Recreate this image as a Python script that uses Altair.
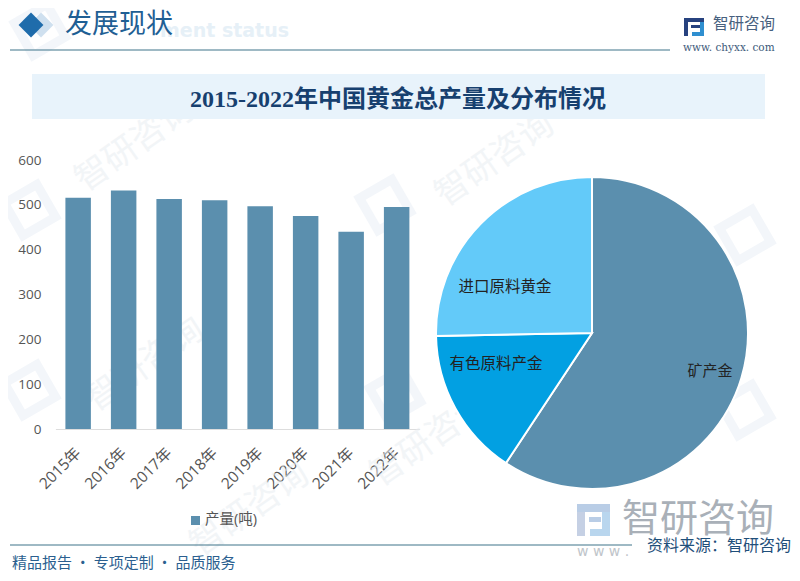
import altair as alt
import pandas as pd

years = ["2015年", "2016年", "2017年", "2018年", "2019年", "2020年", "2021年", "2022年"]
output = [516, 532, 513, 510, 497, 475, 440, 495]
pie_names = ["矿产金", "有色原料产金", "进口原料黄金"]
pie_shares = [59.3, 15.4, 25.3]
pie_colors = ["#5b8fae", "#02a0e2", "#63caf9"]
BAR = "#5b8fae"
SANS = "Noto Sans CJK SC"
AXF = "Open Sans, Noto Sans CJK SC"
OX, OY = 8, 8  # page margin

def px(v): return v - OX
def py(v): return v - OY

def label(text, x, y, size, color, weight="normal", font=SANS, align="left", angle=0, opacity=1.0):
    return alt.Chart(pd.DataFrame({"t": [text]})).mark_text(
        font=font, fontSize=size, color=color, fontWeight=weight, align=align,
        baseline="middle", angle=angle, opacity=opacity
    ).encode(text="t:N", x=alt.value(px(x)), y=alt.value(py(y)))

def box(x, y, x2, y2, color, opacity=1.0):
    return alt.Chart(pd.DataFrame({"a": [0]})).mark_rect(color=color, opacity=opacity).encode(
        x=alt.value(px(x)), x2=alt.value(px(x2)), y=alt.value(py(y)), y2=alt.value(py(y2)))

def hline(x, x2, y, color, w=1.2):
    return alt.Chart(pd.DataFrame({"a": [0]})).mark_rule(color=color, strokeWidth=w).encode(
        x=alt.value(px(x)), x2=alt.value(px(x2)), y=alt.value(py(y)))

def diamond(x, y, size, color, opacity=1.0):
    return alt.Chart(pd.DataFrame({"a": [0]})).mark_point(shape="diamond", filled=True, size=size, color=color, opacity=opacity).encode(
        x=alt.value(px(x)), y=alt.value(py(y)))

def ghost(x, y):
    return alt.Chart(pd.DataFrame({"a": [0]})).mark_point(shape="square", filled=False, size=1400, strokeWidth=9,
                                                          color="#f1f5fa", angle=330, opacity=0.8).encode(
        x=alt.value(px(x)), y=alt.value(py(y)))

layers = []
# watermarks
for gx, gy in [(30, 210), (30, 390), (385, 205), (745, 235), (745, 410), (395, 395), (40, 30)]:
    layers.append(ghost(gx, gy))
for wx, wy in [(135, 145), (495, 160), (145, 365), (250, 510), (430, 440)]:
    layers.append(label("智研咨询", wx, wy, 34, "#e8edf2", angle=325, align="center", opacity=0.55))
layers += [
    label("ment status", 160, 31, 19, "#e6f0f7", weight="bold", font="DejaVu Sans"),
    diamond(41, 25, 620, "#cfe0ef"),
    diamond(31, 25, 620, "#1f6cab"),
    label("发展现状", 65, 25, 27, "#1f5f94"),
    hline(10, 670, 50, "#3f7489"),
    box(32, 74, 765, 119, "#e8f3fb"),
    label("2015-2022年中国黄金总产量及分布情况", 398, 100, 24, "#17406f", weight="bold",
          font="Liberation Serif, Noto Sans CJK SC", align="center"),
    # top logo
    box(684, 18, 704, 22, "#27427f"),
    box(684, 22, 688, 36, "#27427f"),
    box(691, 25, 700, 28, "#27427f"),
    box(692, 32, 704, 36, "#2f8fd0"),
    box(700, 22, 704, 32, "#2f8fd0"),
    label("智研咨询", 713, 24, 15.5, "#47607e"),
    label("www. chyxx. com", 683, 48, 10.5, "#3d5a7a", font="DejaVu Serif"),
]

# bars
df = pd.DataFrame({"year": years, "v": output})
bar_x = alt.X("year:N", sort=years, title=None,
              scale=alt.Scale(range=[px(55.4), px(419.4)], paddingInner=0.44, paddingOuter=0.22),
              axis=alt.Axis(orient="bottom", offset=py(429) - 565, labelAngle=-45, labelAlign="right", labelBaseline="middle",
                            labelFont=AXF, labelFontSize=15.5, labelColor="#555555", ticks=False,
                            domainColor="#dddddd", labelPadding=21, labelOverlap=False))
bar_y = alt.Y("v:Q", title=None, scale=alt.Scale(domain=[0, 600], range=[py(429), py(160)]),
              axis=alt.Axis(orient="left", offset=-px(50), values=[0, 100, 200, 300, 400, 500, 600],
                            labelFont=AXF, labelFontSize=13.5, labelColor="#555555", ticks=False, domain=False,
                            grid=False, labelPadding=9))
bars = alt.Chart(df).mark_bar(color=BAR).encode(x=bar_x, y=bar_y)
layers.append(bars)

# pie
pie_df = pd.DataFrame({"name": pie_names, "share": pie_shares, "o": [0, 1, 2]})
pie = alt.Chart(pie_df).mark_arc(outerRadius=156, stroke="#ffffff", strokeWidth=2).encode(
    theta=alt.Theta("share:Q", stack=True),
    color=alt.Color("name:N", sort=pie_names, scale=alt.Scale(domain=pie_names, range=pie_colors), legend=None),
    order=alt.Order("o:Q"),
    x=alt.value(px(592)), y=alt.value(py(333)),
)
layers.append(pie)
layers += [
    label("矿产金", 710, 371, 15, "#222222", align="center"),
    label("有色原料产金", 496, 364, 15.5, "#222222", align="center"),
    label("进口原料黄金", 505, 287, 15.5, "#222222", align="center"),
    # legend
    box(191, 516, 200, 525, BAR),
    label("产量(吨)", 205, 520, 14.5, "#555555", font=AXF),
    # bottom logo and watermark
    box(577, 504, 610, 512, "#b9cde6"),
    box(577, 512, 585, 536, "#c5d0e4"),
    box(589, 517, 601, 522, "#b9cde6"),
    box(590, 529, 610, 536, "#b9d6ee"),
    box(602, 512, 610, 529, "#b9d6ee"),
    label("智研咨询", 622, 520, 38, "#a9b0b8"),
    label("w w w .", 577, 552, 14, "#c0c5ca", font="DejaVu Sans"),
    # footer
    hline(10, 632, 545, "#3f7489"),
    label("精品报告 · 专项定制 · 品质服务", 12, 563, 15, "#2b5f8f"),
    label("资料来源：智研咨询", 647, 546, 16, "#1f4f7a"),
]

chart = alt.layer(*layers).resolve_scale(x="independent", y="independent", color="independent", theta="independent").resolve_axis(x="independent", y="independent").properties(
    width=784, height=565, padding=0, autosize=alt.AutoSizeParams(type="none"), background="#ffffff"
).configure_view(stroke=None)
chart.save("out.html", embed_options={"renderer": "svg", "actions": False})
